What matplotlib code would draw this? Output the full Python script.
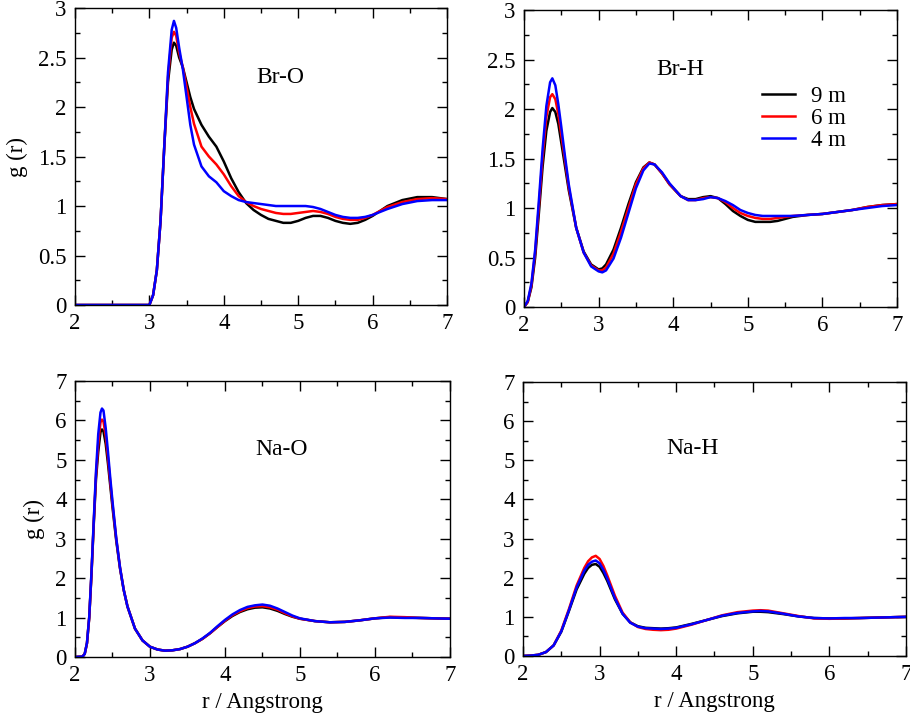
import numpy as np
import matplotlib
matplotlib.use("Agg")
import matplotlib.pyplot as plt
from matplotlib.ticker import MultipleLocator, FormatStrFormatter

plt.rcParams.update({
    "font.family": "Liberation Serif", "font.size": 16.5,
    "xtick.direction": "in", "ytick.direction": "in",
    "xtick.top": True, "ytick.right": True,
    "axes.linewidth": 1.0,
})

labels = ["9 m", "6 m", "4 m"]
colors = ["black", "red", "blue"]

# ── Br-O ──────────────────────────────────────────────────
r_bro = [2.0, 2.9, 2.95, 3.0, 3.05, 3.1, 3.15, 3.2, 3.25, 3.3, 3.33, 3.36, 3.4, 3.45,
         3.5, 3.55, 3.6, 3.7, 3.8, 3.9, 4.0, 4.1, 4.2, 4.3, 4.4, 4.5, 4.6, 4.7, 4.8,
         4.9, 5.0, 5.1, 5.2, 5.3, 5.4, 5.5, 5.6, 5.7, 5.8, 5.9, 6.0, 6.2, 6.4, 6.6, 6.8, 7.0]
bro_9m = [0, 0, 0, 0.0, 0.1, 0.35, 0.85, 1.6, 2.25, 2.58, 2.65, 2.62, 2.5, 2.4,
          2.25, 2.1, 1.98, 1.82, 1.7, 1.6, 1.45, 1.28, 1.14, 1.03, 0.96, 0.91, 0.87, 0.85, 0.83,
          0.83, 0.85, 0.88, 0.9, 0.9, 0.88, 0.85, 0.83, 0.82, 0.83, 0.86, 0.9, 1.0, 1.06, 1.09, 1.09, 1.07]
bro_6m = [0, 0, 0, 0.0, 0.1, 0.35, 0.85, 1.6, 2.3, 2.7, 2.76, 2.72, 2.55, 2.4,
          2.2, 2.0, 1.83, 1.6, 1.5, 1.42, 1.32, 1.2, 1.1, 1.04, 1.0, 0.97, 0.95, 0.93, 0.92,
          0.92, 0.93, 0.94, 0.95, 0.94, 0.92, 0.89, 0.87, 0.86, 0.86, 0.88, 0.91, 0.99, 1.04, 1.07, 1.08, 1.07]
bro_4m = [0, 0, 0, 0.0, 0.1, 0.35, 0.85, 1.6, 2.35, 2.78, 2.87, 2.8, 2.6, 2.38,
          2.1, 1.82, 1.62, 1.4, 1.3, 1.24, 1.15, 1.1, 1.06, 1.04, 1.03, 1.02, 1.01, 1.0, 1.0,
          1.0, 1.0, 1.0, 0.99, 0.97, 0.94, 0.91, 0.89, 0.88, 0.88, 0.89, 0.91, 0.97, 1.02, 1.05, 1.06, 1.06]

# ── Br-H ──────────────────────────────────────────────────
r_brh = [2.0, 2.05, 2.1, 2.15, 2.2, 2.25, 2.3, 2.35, 2.38, 2.42, 2.46, 2.5, 2.55, 2.6,
         2.7, 2.8, 2.9, 3.0, 3.05, 3.1, 3.2, 3.3, 3.4, 3.5, 3.6, 3.68, 3.75, 3.85, 3.95,
         4.1, 4.2, 4.3, 4.4, 4.5, 4.6, 4.7, 4.8, 4.9, 5.0, 5.1, 5.2, 5.3, 5.4, 5.5, 5.6,
         5.8, 6.0, 6.2, 6.4, 6.6, 6.8, 7.0]
brh_9m = [0, 0.05, 0.2, 0.5, 0.95, 1.42, 1.78, 1.97, 2.01, 1.97, 1.85, 1.66, 1.42, 1.18,
          0.8, 0.56, 0.43, 0.38, 0.39, 0.43, 0.58, 0.8, 1.04, 1.26, 1.41, 1.46, 1.44, 1.35, 1.24,
          1.12, 1.09, 1.09, 1.11, 1.12, 1.1, 1.04, 0.97, 0.92, 0.88, 0.86, 0.86, 0.86, 0.87, 0.89, 0.91,
          0.93, 0.94, 0.96, 0.98, 1.01, 1.03, 1.04]
brh_6m = [0, 0.05, 0.22, 0.55, 1.02, 1.52, 1.92, 2.12, 2.15, 2.1, 1.95, 1.74, 1.48, 1.21,
          0.8, 0.55, 0.42, 0.37, 0.37, 0.4, 0.54, 0.76, 1.0, 1.24, 1.4, 1.46, 1.44, 1.35, 1.24,
          1.12, 1.08, 1.08, 1.1, 1.11, 1.1, 1.06, 1.0, 0.95, 0.92, 0.9, 0.89, 0.89, 0.9, 0.91, 0.92,
          0.93, 0.94, 0.96, 0.98, 1.01, 1.03, 1.04]
brh_4m = [0, 0.06, 0.24, 0.58, 1.08, 1.6, 2.03, 2.27, 2.31, 2.24, 2.05, 1.82, 1.52, 1.24,
          0.8, 0.55, 0.41, 0.36, 0.35, 0.37, 0.49, 0.7, 0.95, 1.2, 1.38, 1.45, 1.44, 1.36, 1.25,
          1.12, 1.08, 1.08, 1.09, 1.11, 1.1, 1.07, 1.03, 0.98, 0.95, 0.93, 0.92, 0.92, 0.92, 0.92, 0.92,
          0.93, 0.94, 0.96, 0.98, 1.0, 1.02, 1.03]

# ── Na-O ──────────────────────────────────────────────────
r_nao = [2.0, 2.1, 2.13, 2.16, 2.19, 2.22, 2.25, 2.28, 2.31, 2.34, 2.36, 2.38, 2.41, 2.44,
         2.47, 2.5, 2.55, 2.6, 2.65, 2.7, 2.8, 2.9, 3.0, 3.1, 3.2, 3.3, 3.4, 3.5, 3.6, 3.7,
         3.8, 3.9, 4.0, 4.1, 4.2, 4.3, 4.4, 4.5, 4.6, 4.7, 4.8, 4.9, 5.0, 5.2, 5.4, 5.6, 5.8,
         6.0, 6.2, 6.4, 6.6, 6.8, 7.0]
nao_9m = [0, 0.01, 0.08, 0.35, 1.0, 2.1, 3.35, 4.5, 5.2, 5.7, 5.77, 5.72, 5.4, 4.9,
          4.35, 3.8, 2.95, 2.25, 1.7, 1.28, 0.72, 0.42, 0.26, 0.19, 0.16, 0.17, 0.2, 0.26, 0.35, 0.46,
          0.6, 0.76, 0.91, 1.04, 1.14, 1.21, 1.25, 1.26, 1.23, 1.17, 1.09, 1.02, 0.97, 0.91, 0.88, 0.89, 0.93,
          0.98, 1.01, 1.0, 0.99, 0.98, 0.97]
nao_6m = [0, 0.01, 0.08, 0.35, 1.0, 2.1, 3.4, 4.6, 5.4, 5.95, 6.02, 5.97, 5.6, 5.05,
          4.45, 3.88, 3.0, 2.27, 1.7, 1.28, 0.72, 0.42, 0.26, 0.19, 0.16, 0.17, 0.2, 0.26, 0.35, 0.46,
          0.6, 0.76, 0.92, 1.06, 1.16, 1.24, 1.28, 1.29, 1.26, 1.2, 1.11, 1.03, 0.97, 0.91, 0.88, 0.89, 0.93,
          0.98, 1.02, 1.01, 0.99, 0.98, 0.97]
nao_4m = [0, 0.01, 0.08, 0.36, 1.02, 2.15, 3.45, 4.7, 5.65, 6.2, 6.3, 6.25, 5.8, 5.2,
          4.55, 3.95, 3.02, 2.28, 1.7, 1.28, 0.72, 0.42, 0.26, 0.19, 0.16, 0.17, 0.2, 0.26, 0.35, 0.47,
          0.61, 0.78, 0.94, 1.08, 1.19, 1.27, 1.31, 1.33, 1.3, 1.23, 1.14, 1.05, 0.98, 0.91, 0.88, 0.89, 0.93,
          0.98, 1.0, 0.99, 0.99, 0.98, 0.97]

# ── Na-H ──────────────────────────────────────────────────
r_nah = [2.0, 2.1, 2.2, 2.3, 2.4, 2.5, 2.6, 2.7, 2.8, 2.85, 2.9, 2.95, 3.0, 3.05, 3.1,
         3.2, 3.3, 3.4, 3.5, 3.6, 3.7, 3.8, 3.9, 4.0, 4.2, 4.4, 4.6, 4.8, 5.0, 5.1, 5.2,
         5.4, 5.6, 5.8, 6.0, 6.2, 6.4, 6.6, 6.8, 7.0]
nah_9m = [0, 0.01, 0.03, 0.1, 0.27, 0.62, 1.15, 1.7, 2.1, 2.25, 2.33, 2.35, 2.28, 2.12, 1.92,
          1.45, 1.08, 0.86, 0.76, 0.72, 0.71, 0.7, 0.71, 0.73, 0.82, 0.92, 1.02, 1.09, 1.13, 1.13, 1.12,
          1.07, 1.01, 0.97, 0.96, 0.96, 0.97, 0.98, 0.99, 1.0]
nah_6m = [0, 0.01, 0.03, 0.1, 0.27, 0.65, 1.2, 1.8, 2.25, 2.42, 2.52, 2.56, 2.48, 2.3, 2.06,
          1.54, 1.11, 0.86, 0.74, 0.69, 0.67, 0.66, 0.67, 0.7, 0.8, 0.92, 1.04, 1.12, 1.16, 1.17, 1.16,
          1.09, 1.02, 0.96, 0.95, 0.96, 0.97, 0.98, 0.99, 1.0]
nah_4m = [0, 0.01, 0.03, 0.1, 0.27, 0.63, 1.17, 1.75, 2.18, 2.33, 2.41, 2.44, 2.37, 2.2, 1.98,
          1.48, 1.08, 0.85, 0.75, 0.71, 0.7, 0.69, 0.7, 0.72, 0.81, 0.92, 1.03, 1.1, 1.14, 1.15, 1.14,
          1.08, 1.01, 0.97, 0.96, 0.97, 0.97, 0.98, 0.99, 1.0]

panels = [
    ("Br-O", r_bro, [bro_9m, bro_6m, bro_4m], (4.76, 2.3), 3, 0.5),
    ("Br-H", r_brh, [brh_9m, brh_6m, brh_4m], (4.09, 2.4), 3, 0.5),
    ("Na-O", r_nao, [nao_9m, nao_6m, nao_4m], (4.76, 5.25), 7, 1),
    ("Na-H", r_nah, [nah_9m, nah_6m, nah_4m], (4.22, 5.3), 7, 1),
]
rects = [
    [0.0824, 0.5746, 0.4088, 0.4142],
    [0.5758, 0.5718, 0.4100, 0.4142],
    [0.0824, 0.0837, 0.4120, 0.3850],
    [0.5747, 0.0851, 0.4209, 0.3820],
]

fig = plt.figure(figsize=(9.10, 7.17), dpi=100)
for i, (name, r, series, pos, ymax, ystep) in enumerate(panels):
    ax = fig.add_axes(rects[i])
    for g, c, lab in zip(series, colors, labels):
        ax.plot(r, g, color=c, lw=1.8, label=lab)
    ax.set_xlim(2, 7)
    ax.set_ylim(0, ymax)
    ax.xaxis.set_major_locator(MultipleLocator(1))
    ax.xaxis.set_minor_locator(MultipleLocator(0.5))
    ax.yaxis.set_major_locator(MultipleLocator(ystep))
    ax.yaxis.set_minor_locator(MultipleLocator(ystep / 2))
    ax.yaxis.set_major_formatter(FormatStrFormatter("%g"))
    ax.tick_params(which="major", length=7, width=1.0, pad=6)
    ax.tick_params(which="minor", length=3.5, width=1.0)
    ax.text(pos[0], pos[1], name, ha="center", va="center", fontsize=17)
    if i % 2 == 0:
        ax.set_ylabel("g (r)", labelpad=7)
    if i >= 2:
        ax.set_xlabel("r / Angstrong", labelpad=4)
    if name == "Br-H":
        ax.legend(frameon=False, loc="upper left", bbox_to_anchor=(0.638, 0.745),
                  borderaxespad=0, borderpad=0, handlelength=1.45,
                  handletextpad=0.7, labelspacing=0.05)

fig.savefig("out.png", dpi=100)
